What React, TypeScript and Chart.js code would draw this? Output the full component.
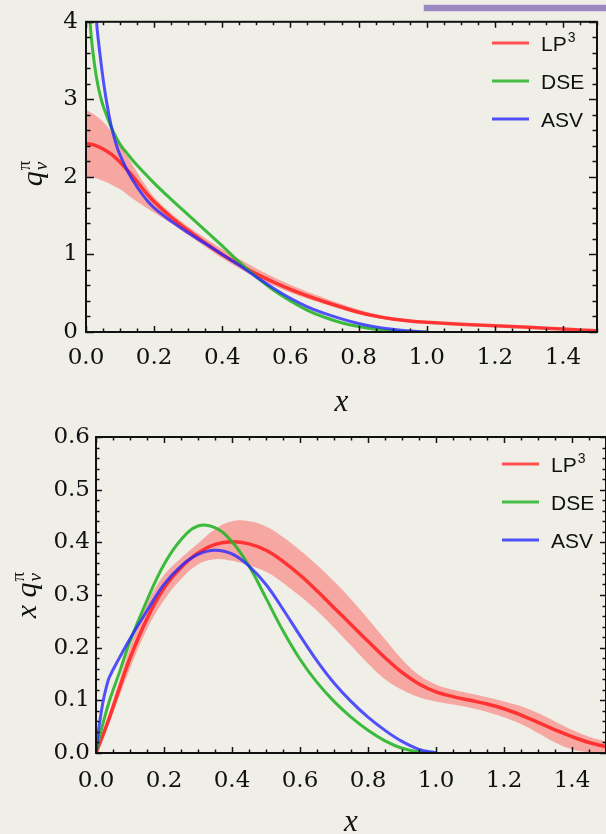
import React, { useEffect, useRef } from 'react';
import { Chart, registerables } from 'chart.js';
Chart.register(...registerables);

// ---------- Top panel: q_v^pi(x) ----------
const TOP_LP3_X = [0, 0.025, 0.05, 0.075, 0.1, 0.125, 0.15, 0.175, 0.2, 0.25, 0.3, 0.35, 0.4, 0.45, 0.5, 0.55, 0.6, 0.65, 0.7, 0.75, 0.8, 0.85, 0.9, 0.95, 1.0, 1.1, 1.2, 1.3, 1.4, 1.5];
const TOP_LP3_MID = [2.43, 2.41, 2.36, 2.29, 2.19, 2.07, 1.94, 1.8, 1.68, 1.48, 1.31, 1.15, 1.0, 0.87, 0.75, 0.645, 0.55, 0.465, 0.39, 0.32, 0.255, 0.205, 0.168, 0.142, 0.125, 0.1, 0.08, 0.06, 0.038, 0.015];
const TOP_LP3_LO = [2.0, 1.99, 1.95, 1.9, 1.84, 1.76, 1.68, 1.61, 1.54, 1.4, 1.25, 1.1, 0.95, 0.82, 0.7, 0.6, 0.51, 0.43, 0.36, 0.29, 0.232, 0.185, 0.152, 0.127, 0.11, 0.09, 0.07, 0.05, 0.028, 0.005];
const TOP_LP3_HI = [2.87, 2.8, 2.71, 2.58, 2.42, 2.24, 2.06, 1.89, 1.74, 1.53, 1.36, 1.21, 1.07, 0.94, 0.82, 0.71, 0.61, 0.52, 0.44, 0.36, 0.29, 0.232, 0.19, 0.16, 0.14, 0.11, 0.09, 0.07, 0.048, 0.025];
const TOP_DSE_X = [0.006, 0.012, 0.02, 0.03, 0.04, 0.05, 0.06, 0.075, 0.1, 0.125, 0.15, 0.2, 0.25, 0.3, 0.35, 0.4, 0.45, 0.5, 0.55, 0.6, 0.65, 0.7, 0.75, 0.8, 0.85, 0.9, 0.95, 1.0];
const TOP_DSE_Y = [4.6, 4.0, 3.62, 3.3, 3.08, 2.92, 2.8, 2.63, 2.42, 2.28, 2.15, 1.92, 1.71, 1.51, 1.31, 1.11, 0.9, 0.71, 0.54, 0.4, 0.28, 0.19, 0.12, 0.07, 0.035, 0.013, 0.003, 0];
const TOP_ASV_X = [0.025, 0.031, 0.04, 0.05, 0.06, 0.075, 0.09, 0.1, 0.125, 0.15, 0.175, 0.2, 0.25, 0.3, 0.35, 0.4, 0.45, 0.5, 0.55, 0.6, 0.65, 0.7, 0.75, 0.8, 0.85, 0.9, 0.95, 1.0];
const TOP_ASV_Y = [4.5, 4.0, 3.62, 3.27, 2.98, 2.64, 2.4, 2.28, 2.05, 1.87, 1.72, 1.6, 1.43, 1.28, 1.14, 1.0, 0.86, 0.71, 0.565, 0.435, 0.325, 0.24, 0.17, 0.11, 0.066, 0.034, 0.012, 0];

// ---------- Bottom panel: x q_v^pi(x) ----------
const BOT_LP3_X = [0, 0.02, 0.04, 0.07, 0.1, 0.15, 0.2, 0.25, 0.3, 0.35, 0.4, 0.45, 0.5, 0.55, 0.6, 0.65, 0.7, 0.75, 0.8, 0.85, 0.9, 0.95, 1.0, 1.05, 1.1, 1.15, 1.2, 1.25, 1.3, 1.35, 1.4, 1.45, 1.5];
const BOT_LP3_MID = [0, 0.033, 0.068, 0.125, 0.18, 0.255, 0.313, 0.352, 0.38, 0.396, 0.401, 0.397, 0.385, 0.364, 0.338, 0.308, 0.276, 0.244, 0.212, 0.181, 0.153, 0.131, 0.116, 0.107, 0.1, 0.093, 0.084, 0.072, 0.058, 0.044, 0.031, 0.02, 0.012];
const BOT_LP3_LO = [0, 0.028, 0.058, 0.11, 0.16, 0.235, 0.29, 0.33, 0.358, 0.368, 0.365, 0.356, 0.344, 0.323, 0.298, 0.27, 0.238, 0.204, 0.17, 0.14, 0.12, 0.106, 0.098, 0.092, 0.086, 0.078, 0.068, 0.055, 0.038, 0.02, 0.007, 0.001, 0];
const BOT_LP3_HI = [0, 0.04, 0.08, 0.14, 0.2, 0.283, 0.338, 0.37, 0.398, 0.425, 0.44, 0.44, 0.43, 0.41, 0.385, 0.357, 0.326, 0.292, 0.255, 0.216, 0.178, 0.148, 0.13, 0.12, 0.113, 0.106, 0.098, 0.089, 0.076, 0.06, 0.044, 0.031, 0.022];
const BOT_DSE_X = [0, 0.01, 0.02, 0.04, 0.07, 0.1, 0.15, 0.2, 0.25, 0.3, 0.35, 0.4, 0.45, 0.5, 0.55, 0.6, 0.65, 0.7, 0.75, 0.8, 0.85, 0.9, 0.95, 1.0];
const BOT_DSE_Y = [0, 0.03, 0.055, 0.1, 0.155, 0.212, 0.29, 0.358, 0.405, 0.431, 0.428, 0.401, 0.355, 0.294, 0.232, 0.178, 0.134, 0.098, 0.068, 0.043, 0.023, 0.009, 0.002, 0];
const BOT_ASV_X = [0, 0.005, 0.01, 0.02, 0.03, 0.04, 0.07, 0.1, 0.15, 0.2, 0.25, 0.3, 0.35, 0.4, 0.45, 0.5, 0.55, 0.6, 0.65, 0.7, 0.75, 0.8, 0.85, 0.9, 0.95, 1.0];
const BOT_ASV_Y = [0, 0.03, 0.055, 0.095, 0.124, 0.145, 0.182, 0.217, 0.27, 0.32, 0.355, 0.377, 0.385, 0.378, 0.355, 0.32, 0.273, 0.223, 0.175, 0.133, 0.098, 0.068, 0.043, 0.022, 0.007, 0];

// ---------- Ticks & labels ----------
const X_TICKS = [0, 0.2, 0.4, 0.6, 0.8, 1.0, 1.2, 1.4];
const TOP_Y_TICKS = [0, 1, 2, 3, 4];
const BOT_Y_TICKS = [0, 0.1, 0.2, 0.3, 0.4, 0.5, 0.6];
const LEGEND_LABELS = [['LP', '3'], ['DSE', ''], ['ASV', '']];

const RED = 'rgba(255,30,30,0.85)';
const BAND = 'rgba(255,60,60,0.4)';
const GREEN = 'rgba(40,180,40,0.9)';
const BLUE = 'rgba(40,40,255,0.8)';
const LEGEND_COLORS = ['rgb(255,80,80)', 'rgb(70,190,70)', 'rgb(80,80,250)'];
const BG = '#f0efe7';

const pts = (xs: number[], ys: number[]) => xs.map((x, i) => ({ x, y: ys[i] }));

const framePlugin = {
  id: 'frame',
  afterDraw(chart: any, _args: any, o: any) {
    const { ctx, chartArea: ca, scales } = chart;
    const xs = scales.x, ys = scales.y;
    ctx.save();
    ctx.strokeStyle = '#111';
    ctx.lineWidth = 1.5;
    for (let i = 0; i <= o.xCount; i++) {
      const v = i * o.xStep;
      const px = Math.round(xs.getPixelForValue(v)) + 0.5;
      if (px > ca.right + 1) continue;
      const len = i % o.xMajorEvery === 0 ? o.xMajorLen : o.xMinorLen;
      ctx.beginPath();
      ctx.moveTo(px, ca.bottom); ctx.lineTo(px, ca.bottom - len);
      ctx.moveTo(px, ca.top); ctx.lineTo(px, ca.top + len);
      ctx.stroke();
    }
    for (let i = 0; i <= o.yCount; i++) {
      const v = i * o.yStep;
      const py = Math.round(ys.getPixelForValue(v)) + 0.5;
      const len = i % o.yMajorEvery === 0 ? o.yMajorLen : o.yMinorLen;
      ctx.beginPath();
      ctx.moveTo(ca.left, py); ctx.lineTo(ca.left + len, py);
      ctx.moveTo(ca.right, py); ctx.lineTo(ca.right - len, py);
      ctx.stroke();
    }
    ctx.lineWidth = 2;
    ctx.strokeRect(ca.left, ca.top, ca.right - ca.left, ca.bottom - ca.top);

    // legend
    ctx.lineWidth = 3;
    ctx.textBaseline = 'alphabetic';
    ctx.textAlign = 'left';
    LEGEND_LABELS.forEach(([lab, sup], i) => {
      const y = o.legendY0 + i * o.legendDy;
      ctx.strokeStyle = LEGEND_COLORS[i];
      ctx.beginPath();
      ctx.moveTo(o.legendX0, y); ctx.lineTo(o.legendX1, y);
      ctx.stroke();
      ctx.fillStyle = '#111';
      ctx.font = '21px "Liberation Sans", Arial, sans-serif';
      ctx.fillText(lab, o.legendTextX, y + 8);
      if (sup) {
        const w = ctx.measureText(lab).width;
        ctx.font = '14px "Liberation Sans", Arial, sans-serif';
        ctx.fillText(sup, o.legendTextX + w + 1, y - 1);
      }
    });

    // x axis title
    ctx.fillStyle = '#111';
    ctx.font = 'italic 31px "Liberation Serif", serif';
    ctx.textAlign = 'center';
    ctx.textBaseline = 'alphabetic';
    ctx.fillText('x', (ca.left + ca.right) / 2, o.xTitleY);

    // y axis title (rotated, with sub/superscript)
    const mainFont = 'italic 30px "Liberation Serif", serif';
    const smallItalic = 'italic 19px "Liberation Serif", serif';
    const smallUp = '19px "Liberation Serif", serif';
    ctx.save();
    ctx.translate(o.yTitleX, o.yTitleCy);
    ctx.rotate(-Math.PI / 2);
    ctx.textAlign = 'left';
    ctx.font = mainFont;
    const pre = o.yTitlePrefix;
    const wPre = pre ? ctx.measureText(pre).width : 0;
    const wq = ctx.measureText('q').width;
    ctx.font = smallItalic;
    const wv = ctx.measureText('v').width;
    ctx.font = smallUp;
    const wpi = ctx.measureText('\u03C0').width;
    const total = wPre + wq + 1 + Math.max(wv, wpi);
    let x = -total / 2;
    ctx.font = mainFont;
    if (pre) { ctx.fillText(pre, x, 0); x += wPre; }
    ctx.fillText('q', x, 0); x += wq + 1;
    ctx.font = smallItalic;
    ctx.fillText('v', x, 5);
    ctx.font = smallUp;
    ctx.fillText('\u03C0', x, -12);
    ctx.restore();

    ctx.restore();
  },
};

function makeConfig(panel: 'top' | 'bot') {
  const isTop = panel === 'top';
  const lp3x = isTop ? TOP_LP3_X : BOT_LP3_X;
  const datasets = [
    { label: 'ASV', data: pts(isTop ? TOP_ASV_X : BOT_ASV_X, isTop ? TOP_ASV_Y : BOT_ASV_Y), borderColor: BLUE, borderWidth: 3, order: 0 },
    { label: 'DSE', data: pts(isTop ? TOP_DSE_X : BOT_DSE_X, isTop ? TOP_DSE_Y : BOT_DSE_Y), borderColor: GREEN, borderWidth: 3, order: 1 },
    { label: 'LP3', data: pts(lp3x, isTop ? TOP_LP3_MID : BOT_LP3_MID), borderColor: RED, borderWidth: 3.5, order: 2 },
    { label: 'LP3 hi', data: pts(lp3x, isTop ? TOP_LP3_HI : BOT_LP3_HI), borderColor: 'rgba(0,0,0,0)', borderWidth: 0, backgroundColor: BAND, fill: '+1', order: 3 },
    { label: 'LP3 lo', data: pts(lp3x, isTop ? TOP_LP3_LO : BOT_LP3_LO), borderColor: 'rgba(0,0,0,0)', borderWidth: 0, fill: false, order: 4 },
  ].map((d) => ({ ...d, pointRadius: 0, tension: 0.4 }));

  const yTicks = isTop ? TOP_Y_TICKS : BOT_Y_TICKS;
  return {
    type: 'line' as const,
    data: { datasets },
    plugins: [framePlugin],
    options: {
      animation: false as const,
      responsive: false,
      events: [],
      layout: { padding: isTop ? { top: 15, right: 9, left: 0, bottom: 0 } : { top: 20, right: 0, left: 0, bottom: 0 } },
      plugins: {
        legend: { display: false },
        tooltip: { enabled: false },
        frame: isTop
          ? { xCount: 30, xStep: 0.05, xMajorEvery: 4, xMajorLen: 6, xMinorLen: 3.5,
              yCount: 20, yStep: 0.2, yMajorEvery: 5, yMajorLen: 8, yMinorLen: 4.5,
              legendX0: 492, legendX1: 529, legendTextX: 541, legendY0: 43, legendDy: 38,
              xTitleY: 411, yTitleX: 42, yTitleCy: 173.5, yTitlePrefix: '' }
          : { xCount: 30, xStep: 0.05, xMajorEvery: 4, xMajorLen: 6, xMinorLen: 3.5,
              yCount: 30, yStep: 0.02, yMajorEvery: 5, yMajorLen: 6, yMinorLen: 3.5,
              legendX0: 502, legendX1: 539, legendTextX: 551, legendY0: 47, legendDy: 38,
              xTitleY: 414, yTitleX: 36, yTitleCy: 178, yTitlePrefix: 'x ' },
      },
      scales: {
        x: {
          type: 'linear' as const,
          min: 0,
          max: 1.5,
          grid: { display: false, drawTicks: false },
          border: { display: false },
          afterBuildTicks: (s: any) => { s.ticks = X_TICKS.map((v) => ({ value: v })); },
          afterFit: (s: any) => { s.height = isTop ? 85 : 81; },
          ticks: {
            padding: isTop ? 12 : 14,
            color: '#111',
            maxRotation: 0,
            autoSkip: false,
            font: { family: '"DejaVu Serif", serif', size: 23 },
            callback: (v: any) => Number(v).toFixed(1),
          },
        },
        y: {
          type: 'linear' as const,
          min: 0,
          max: isTop ? 4 : 0.6,
          grid: { display: false, drawTicks: false },
          border: { display: false },
          afterBuildTicks: (s: any) => { s.ticks = yTicks.map((v) => ({ value: v })); },
          afterFit: (s: any) => { s.width = isTop ? 86 : 96; },
          ticks: {
            padding: isTop ? 8 : 6,
            color: '#111',
            autoSkip: false,
            font: { family: '"DejaVu Serif", serif', size: 23 },
            callback: (v: any) => (isTop ? String(Math.round(Number(v))) : Number(v).toFixed(1)),
          },
        },
      },
    },
  };
}

function Panel({ panel, top }: { panel: 'top' | 'bot'; top: number }) {
  const ref = useRef<HTMLCanvasElement | null>(null);
  useEffect(() => {
    if (!ref.current) return;
    const chart = new Chart(ref.current, makeConfig(panel) as any);
    return () => chart.destroy();
  }, [panel]);
  return (
    <canvas
      ref={ref}
      width={606}
      height={417}
      style={{ position: 'absolute', left: 0, top, width: 606, height: 417 }}
    />
  );
}

export default function App() {
  useEffect(() => {
    document.body.style.margin = '0';
    document.body.style.background = BG;
  }, []);
  return (
    <div style={{ position: 'absolute', left: 0, top: 0, width: 606, height: 834, background: BG, overflow: 'hidden' }}>
      <div
        style={{
          position: 'absolute', left: 423, top: 4, width: 190, height: 6,
          background: '#9c88c2', border: '1px solid #dcd6e4',
        }}
      />
      <Panel panel="top" top={0} />
      <Panel panel="bot" top={417} />
    </div>
  );
}
